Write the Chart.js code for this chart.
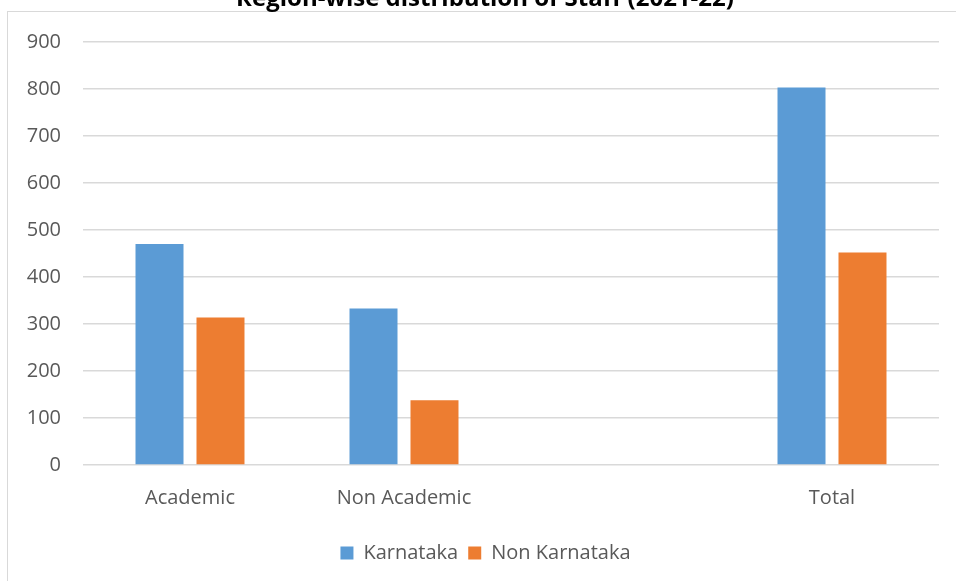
<!DOCTYPE html>
<html lang="en">
<head>
    <meta charset="UTF-8">
    <title>Region-wise distribution of Staff (2021-22)</title>
    <script src="https://cdn.jsdelivr.net/npm/chart.js"></script>
    <style>
        * { box-sizing: border-box; margin: 0; padding: 0; }
        body {
            width: 956px;
            height: 581px;
            overflow: hidden;
            background: #fff;
            position: relative;
            font-family: "Open Sans", sans-serif;
        }
        /* chart frame, cut off on the right and bottom like the screenshot */
        .frame {
            position: absolute;
            left: 7px;
            top: 11px;
            width: 1000px;
            height: 1000px;
            border: 1px solid #d9d9d9;
        }
        .wrap {
            position: absolute;
            left: 0;
            top: 0;
            width: 956px;
            height: 581px;
        }
    </style>
</head>
<body>
    <div class="frame"></div>
    <div class="wrap"><canvas id="staffChart"></canvas></div>

    <script>
        // data
        const categories = ['Academic', 'Non Academic', '', 'Total'];
        const karnataka = [470, 333, null, 803];
        const nonKarnataka = [314, 138, null, 452];
        const yTicks = [0, 100, 200, 300, 400, 500, 600, 700, 800, 900];
        const chartTitle = 'Region-wise distribution of Staff (2021-22)';

        const textColor = '#595959';
        const gridColor = '#d9d9d9';

        // title sits partly above the top edge of the picture
        const titlePlugin = {
            id: 'clippedTitle',
            afterLayout(chart) {
                // legend in the reference is centred a bit right of the canvas middle
                if (chart.legend) {
                    chart.legend.left += 16;
                    chart.legend.right += 16;
                }
            },
            afterDraw(chart) {
                const c = chart.ctx;
                c.save();
                c.font = 'bold 24px "Open Sans", sans-serif';
                c.fillStyle = '#000';
                c.textAlign = 'center';
                c.textBaseline = 'alphabetic';
                c.fillText(chartTitle, 485, 6);
                c.restore();
            }
        };

        const ctx = document.getElementById('staffChart').getContext('2d');
        new Chart(ctx, {
            type: 'bar',
            data: {
                labels: categories,
                datasets: [
                    {
                        label: 'Karnataka',
                        data: karnataka,
                        backgroundColor: '#5b9bd5',
                        borderWidth: 0
                    },
                    {
                        label: 'Non Karnataka',
                        data: nonKarnataka,
                        backgroundColor: '#ed7d31',
                        borderWidth: 0
                    }
                ]
            },
            options: {
                responsive: true,
                maintainAspectRatio: false,
                animation: false,
                categoryPercentage: 0.57,
                barPercentage: 0.787,
                layout: {
                    padding: { top: 42, left: 0, right: 17, bottom: 8 }
                },
                plugins: {
                    title: { display: false },
                    tooltip: { enabled: false },
                    legend: {
                        position: 'bottom',
                        labels: {
                            color: textColor,
                            font: { family: '"Open Sans", sans-serif', size: 20 },
                            boxWidth: 13,
                            boxHeight: 13,
                            padding: 10
                        }
                    }
                },
                scales: {
                    x: {
                        grid: { display: false },
                        border: { display: false },
                        ticks: {
                            color: textColor,
                            font: { family: '"Open Sans", sans-serif', size: 20 },
                            padding: 13,
                            maxRotation: 0,
                            autoSkip: false
                        },
                        afterFit(scale) { scale.height = 68; }
                    },
                    y: {
                        min: 0,
                        max: 900,
                        afterBuildTicks(scale) {
                            scale.ticks = yTicks.map(v => ({ value: v }));
                        },
                        grid: {
                            color: gridColor,
                            lineWidth: 1.5,
                            drawTicks: false
                        },
                        border: { display: false },
                        ticks: {
                            color: textColor,
                            font: { family: '"Open Sans", sans-serif', size: 20 },
                            padding: 22
                        },
                        afterFit(scale) { scale.width = 83; }
                    }
                }
            },
            plugins: [titlePlugin]
        });
    </script>
</body>
</html>
